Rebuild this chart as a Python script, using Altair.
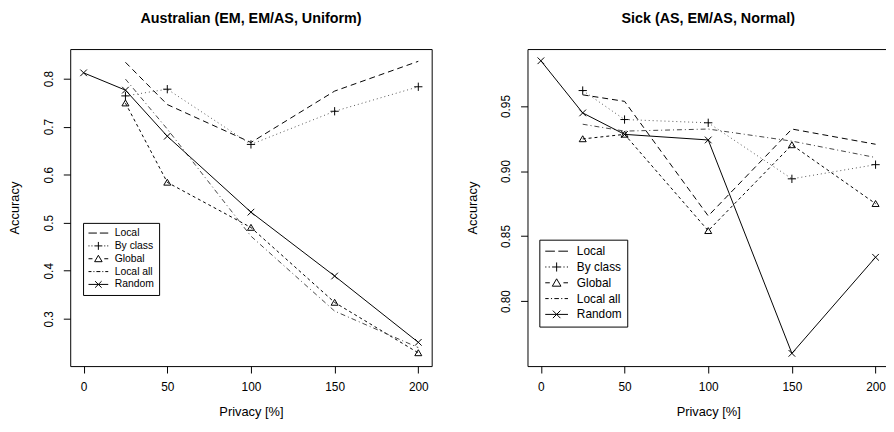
import altair as alt
import pandas as pd

# ---------------- data ----------------
privacy = [0, 25, 50, 100, 150, 200]
series_names = ["Local", "By class", "Global", "Local all", "Random"]

au_local = [None, 0.834, 0.746, 0.667, 0.774, 0.836]
au_byclass = [None, 0.764, 0.778, 0.663, 0.732, 0.783]
au_global = [None, 0.749, 0.584, 0.490, 0.334, 0.229]
au_localall = [None, 0.799, 0.695, 0.472, 0.316, 0.240]
au_random = [0.812, 0.776, 0.680, 0.522, 0.389, 0.251]

sk_local = [None, 0.9586, 0.9536, 0.8655, 0.9323, 0.9206]
sk_byclass = [None, 0.9619, 0.9396, 0.9371, 0.8940, 0.9049]
sk_global = [None, 0.9247, 0.9282, 0.8541, 0.9201, 0.8749]
sk_localall = [None, 0.9360, 0.9307, 0.9323, 0.9230, 0.9104]
sk_random = [0.9848, 0.9447, 0.9282, 0.9239, 0.7598, 0.8337]

x_ticks = [0, 50, 100, 150, 200]
au_y_ticks = [0.3, 0.4, 0.5, 0.6, 0.7, 0.8]
sk_y_ticks = [0.80, 0.85, 0.90, 0.95]


def long_table(cols):
    rows = []
    for name, vals in zip(series_names, cols):
        for p, v in zip(privacy, vals):
            if v is not None:
                rows.append({"series": name, "privacy": p, "accuracy": v})
    return pd.DataFrame(rows)


au_df = long_table([au_local, au_byclass, au_global, au_localall, au_random])
sk_df = long_table([sk_local, sk_byclass, sk_global, sk_localall, sk_random])
legend_df = pd.DataFrame({"series": series_names})

# ---------------- styles ----------------
FONT = "Liberation Sans"
line_style = {
    "Local": dict(strokeDash=[6, 4], color="black"),
    "By class": dict(strokeDash=[1, 3], color="#555555"),
    "Global": dict(strokeDash=[3, 3], color="black"),
    "Local all": dict(strokeDash=[5, 3, 1, 3], color="#444444"),
    "Random": dict(color="black"),
}
PLUS = "M-1,0L1,0M0,-1L0,1"
CROSS = "M-1,-1L1,1M-1,1L1,-1"
TRI = "M0,-0.9L1,0.8L-1,0.8Z"
marker_style = {
    "By class": dict(shape=PLUS, size=70),
    "Global": dict(shape=TRI, size=50),
    "Random": dict(shape=CROSS, size=45),
}
legend_paths = [
    "M-1,0L-0.15,0M0.15,0L1,0",
    "M-1,0L-0.9,0M-0.7,0L-0.6,0M0.6,0L0.7,0M0.9,0L1,0M-0.4,0L0.4,0M0,-0.4L0,0.4",
    "M-1,0L-0.6,0M0.6,0L1,0M0,-0.35L0.38,0.3L-0.38,0.3Z",
    "M-1,0L-0.7,0M-0.5,0L-0.4,0M-0.2,0L0.2,0M0.4,0L0.5,0M0.7,0L1,0",
    "M-1,0L1,0M-0.33,-0.33L0.33,0.33M-0.33,0.33L0.33,-0.33",
]

W, H = 366, 321


def panel(df, title, ydomain, yticks, yfmt, leg):
    xenc = alt.X(
        "privacy:Q",
        scale=alt.Scale(domain=[-8, 208], nice=False, zero=False),
        axis=alt.Axis(values=x_ticks, title="Privacy [%]", format="d"),
    )
    yenc = alt.Y(
        "accuracy:Q",
        scale=alt.Scale(domain=ydomain, nice=False, zero=False),
        axis=alt.Axis(values=yticks, title="Accuracy", format=yfmt),
    )
    layers = []
    for name in series_names:
        st = line_style[name]
        layers.append(
            alt.Chart(df)
            .transform_filter(alt.datum.series == name)
            .mark_line(strokeWidth=1, **st)
            .encode(x=xenc, y=yenc)
        )
    for name, ms in marker_style.items():
        layers.append(
            alt.Chart(df)
            .transform_filter(alt.datum.series == name)
            .mark_point(filled=False, color="black", strokeWidth=1, opacity=1, **ms)
            .encode(x=xenc, y=yenc)
        )
    layers.append(
        alt.Chart(legend_df)
        .mark_point(filled=False, color="black", opacity=0)
        .encode(
            shape=alt.Shape(
                "series:N",
                sort=series_names,
                scale=alt.Scale(domain=series_names, range=legend_paths),
                legend=alt.Legend(
                    orient="none",
                    legendX=leg["x"],
                    legendY=leg["y"],
                    title=None,
                    symbolSize=leg["size"],
                    clipHeight=leg["clip"],
                    rowPadding=2,
                    labelFont=FONT,
                    labelFontSize=leg["font"],
                    labelColor="black",
                    labelOffset=leg["offset"],
                    padding=leg["pad"],
                    strokeColor="black",
                    fillColor="white",
                    symbolStrokeColor="black",
                    symbolStrokeWidth=1,
                    symbolOpacity=1,
                    symbolFillColor="transparent",
                ),
            )
        )
    )
    return alt.layer(*layers).properties(
        width=W,
        height=H,
        title=alt.Title(
            title,
            font=FONT,
            fontSize=14.5,
            fontWeight="bold",
            anchor="middle",
            color="black",
            offset=23,
        ),
    )


left = panel(
    au_df,
    "Australian (EM, EM/AS, Uniform)",
    [0.2015, 0.8615],
    au_y_ticks,
    ".1f",
    dict(x=13, y=176, size=400, clip=10.6, font=10.5, offset=6, pad=5),
)
right = panel(
    sk_df,
    "Sick (AS, EM/AS, Normal)",
    [0.75, 0.9938],
    sk_y_ticks,
    ".2f",
    dict(x=12, y=193, size=530, clip=13.3, font=12, offset=8, pad=5),
)

chart = (
    alt.hconcat(left, right, spacing=33)
    .resolve_scale(shape="independent")
    .resolve_legend(shape="independent")
    .properties(padding={"left": 0, "top": 0, "right": -4, "bottom": -2})
    .configure_view(stroke="black", strokeWidth=1)
    .configure_axis(
        domain=False,
        grid=False,
        ticks=True,
        tickColor="black",
        tickSize=7,
        tickWidth=1,
        labelFont=FONT,
        labelFontSize=12,
        labelColor="black",
        titleFont=FONT,
        titleFontSize=13,
        titleFontWeight="normal",
        titleColor="black",
    )
    .configure_axisX(labelPadding=9, titlePadding=13)
    .configure_axisY(
        labelAngle=270,
        labelAlign="center",
        labelBaseline="bottom",
        labelPadding=8,
        titlePadding=21,
    )
)

chart.save("out.html", embed_options={"renderer": "svg", "actions": False})
